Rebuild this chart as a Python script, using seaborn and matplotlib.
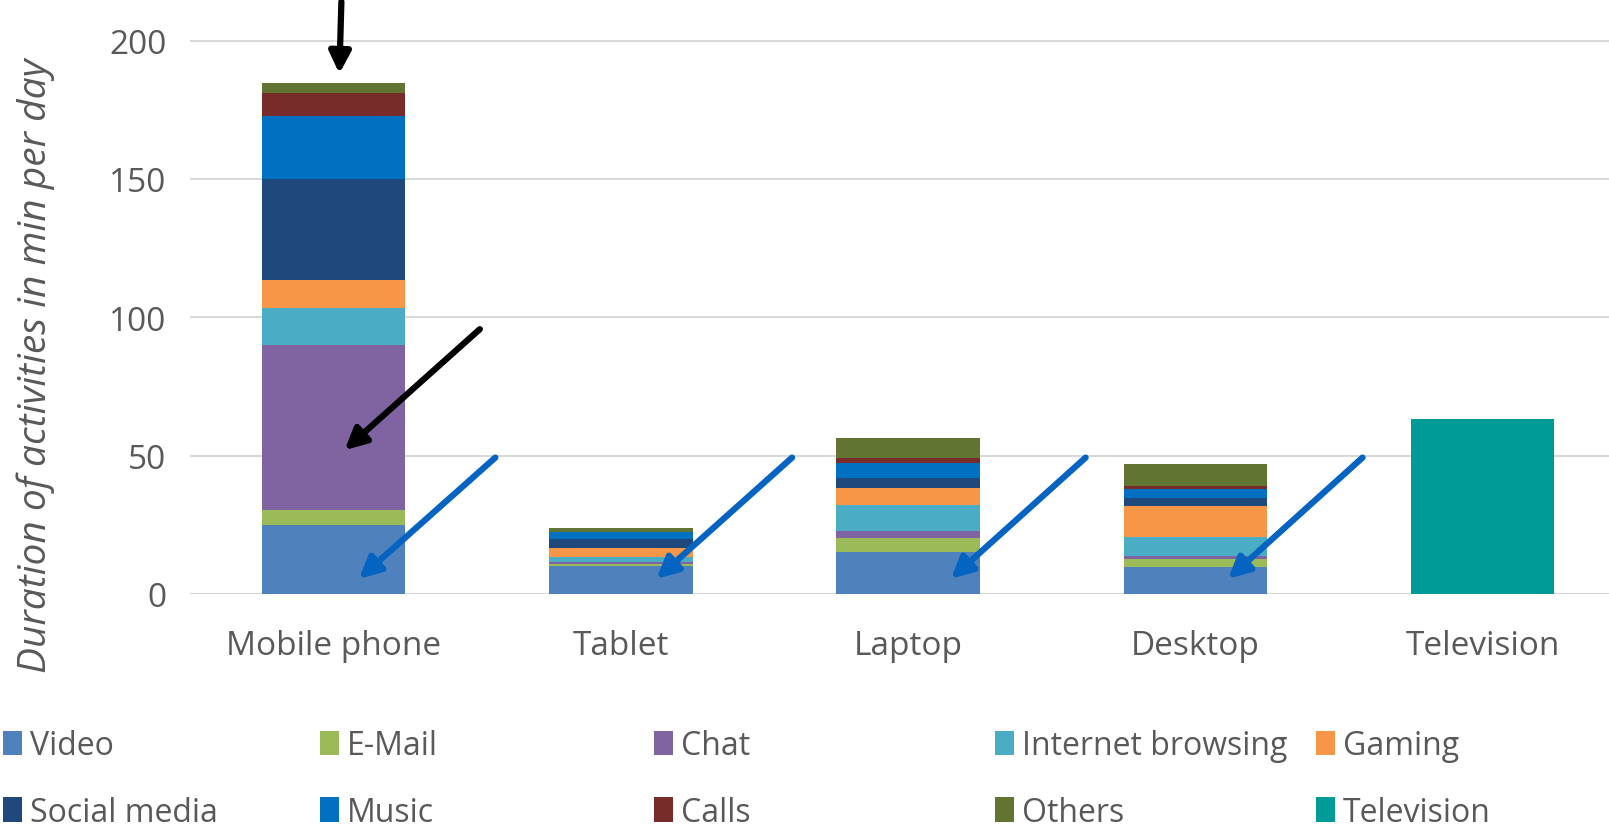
import matplotlib
matplotlib.use("Agg")
import matplotlib.pyplot as plt
from matplotlib.patches import Patch
import numpy as np
import seaborn as sns

# Devices on the x axis
devices = ["Mobile phone", "Tablet", "Laptop", "Desktop", "Television"]

# Minutes per day spent on each activity, per device (stack order bottom -> top)
video = [24.8, 10.0, 15.0, 9.9, 0]
email = [5.5, 1.0, 5.3, 2.8, 0]
chat = [59.8, 0.4, 2.6, 1.2, 0]
internet_browsing = [13.4, 2.1, 9.1, 6.6, 0]
gaming = [10.0, 3.2, 6.3, 11.2, 0]
social_media = [36.3, 3.1, 3.6, 3.0, 0]
music = [22.8, 2.5, 5.6, 3.4, 0]
calls = [8.5, 0.0, 1.5, 0.8, 0]
others = [3.4, 1.4, 7.3, 8.1, 0]
television = [0, 0, 0, 0, 63.4]

series_names = ["Video", "E-Mail", "Chat", "Internet browsing", "Gaming",
                "Social media", "Music", "Calls", "Others", "Television"]
series_values = [video, email, chat, internet_browsing, gaming,
                 social_media, music, calls, others, television]
series_colors = ["#4F81BD", "#9BBB59", "#8064A2", "#4BACC6", "#F79646",
                 "#1F497D", "#0070C0", "#772C2A", "#627431", "#009B96"]

sns.set_theme(style="white")
plt.rcParams["font.family"] = ["Open Sans", "DejaVu Sans"]

fig = plt.figure(figsize=(16.09, 8.29), dpi=100)
ax = fig.add_axes([190 / 1609, 1 - 595 / 829, 1 - 190 / 1609, 595 / 829])

bottom = np.zeros(len(devices))
for name, vals, col in zip(series_names, series_values, series_colors):
    vals = np.asarray(vals, dtype=float)
    sns.barplot(x=devices, y=vals, bottom=bottom, color=col, width=0.5,
                saturation=1, ax=ax, zorder=3, linewidth=0)
    bottom = bottom + vals

ax.set_xlim(-0.5, 4.44)
ax.set_ylim(0, 215)
ax.set_yticks([0, 50, 100, 150, 200])
ax.yaxis.grid(True, color="#D9D9D9", linewidth=1.5, zorder=0)
ax.set_axisbelow(True)
for s in ax.spines.values():
    s.set_visible(False)
ax.tick_params(axis="both", length=0, labelsize=24, colors="#595959")
ax.tick_params(axis="x", pad=25)
ax.tick_params(axis="y", pad=17)
ax.set_xlabel("")
ax.set_ylabel("Duration of activities in min per day", fontsize=28,
              fontstyle="italic", color="#595959", va="center")
ax.yaxis.set_label_coords((36 - 190) / 1419, (595 - 366) / 595)

# Annotation arrows
black = "#000000"
blue = "#0563C1"
arrow_kw = dict(arrowstyle="-|>", mutation_scale=32, lw=4.5, shrinkA=0, shrinkB=0)
ax.annotate("", xy=(0.02, 188), xytext=(0.027, 214),
            arrowprops=dict(color=black, **arrow_kw), annotation_clip=False)
ax.annotate("", xy=(0.038, 52), xytext=(0.509, 95.7),
            arrowprops=dict(color=black, **arrow_kw), annotation_clip=False)
blue_tails = [0.563, 1.596, 2.618, 3.582]
blue_heads = [0.088, 1.124, 2.149, 3.114]
for xt, xh in zip(blue_tails, blue_heads):
    ax.annotate("", xy=(xh, 5.5), xytext=(xt, 49.3),
                arrowprops=dict(color=blue, **arrow_kw), annotation_clip=False)

# Legend laid out as five columns of two entries each
handles = [Patch(facecolor=c, edgecolor="none") for c in series_colors]
col_x = [3, 320, 654, 995, 1316]
for j, x in enumerate(col_x):
    idx = [j, j + 5]
    fig.legend([handles[i] for i in idx], [series_names[i] for i in idx],
               loc="upper left", bbox_to_anchor=(x / 1609, 1 - 730 / 829),
               frameon=False, fontsize=23, handlelength=0.6, handleheight=0.8,
               handletextpad=0.25, labelspacing=1.05, borderpad=0,
               borderaxespad=0, labelcolor="#595959")

fig.savefig("out.png", dpi=100)
